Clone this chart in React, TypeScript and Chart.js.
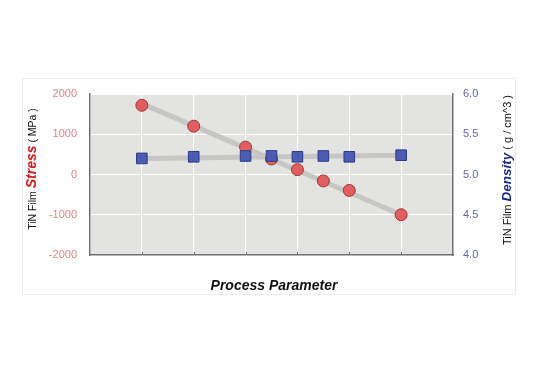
import React, { useEffect, useRef } from "react";
import { Chart, registerables } from "chart.js";

Chart.register(...registerables);

const stressX = [1, 2, 3, 3.5, 4, 4.5, 5, 6];
const stressValues = [1720, 1200, 680, 385, 120, -160, -395, -1000];
const densityX = [1, 2, 3, 3.5, 4, 4.5, 5, 6];
const densityValues = [5.2, 5.22, 5.23, 5.23, 5.22, 5.23, 5.22, 5.24];
const stressTrendX = [1, 6];
const stressTrendValues = [1760, -1000];
const densityTrendX = [1, 6];
const densityTrendValues = [5.2, 5.24];
const stressTicks = [-2000, -1000, 0, 1000, 2000];
const densityTicks = [4.0, 4.5, 5.0, 5.5, 6.0];

const FONT = "'Liberation Sans', Arial, sans-serif";

const pts = (xs: number[], ys: number[]) => xs.map((x, i) => ({ x, y: ys[i] }));

const decorPlugin = {
  id: "decor",
  beforeDraw(chart: any) {
    const { ctx, chartArea } = chart;
    ctx.save();
    ctx.fillStyle = "#ffffff";
    ctx.fillRect(0, 0, chart.width, chart.height);
    ctx.strokeStyle = "#ececec";
    ctx.lineWidth = 1;
    ctx.strokeRect(22.5, 78.5, 493, 216);
    ctx.fillStyle = "#e3e3e1";
    ctx.fillRect(chartArea.left, chartArea.top, chartArea.right - chartArea.left, chartArea.bottom - chartArea.top);
    ctx.restore();
  },
  afterDraw(chart: any) {
    const { ctx, chartArea, scales } = chart;
    ctx.save();
    ctx.strokeStyle = "#707070";
    ctx.lineWidth = 1;
    for (let v = 1; v <= 6; v++) {
      const x = Math.round(scales.x.getPixelForValue(v)) + 0.5;
      ctx.beginPath();
      ctx.moveTo(x, chartArea.bottom);
      ctx.lineTo(x, chartArea.bottom - 3);
      ctx.stroke();
    }
    const drawRot = (cx: number, cy: number, segs: { t: string; f: string; c: string }[]) => {
      ctx.save();
      ctx.translate(cx, cy);
      ctx.rotate(-Math.PI / 2);
      ctx.textBaseline = "alphabetic";
      ctx.textAlign = "left";
      let total = 0;
      for (const s of segs) {
        ctx.font = s.f;
        total += ctx.measureText(s.t).width;
      }
      let x = -total / 2;
      for (const s of segs) {
        ctx.font = s.f;
        ctx.fillStyle = s.c;
        ctx.fillText(s.t, x, 0);
        x += ctx.measureText(s.t).width;
      }
      ctx.restore();
    };
    drawRot(36, 169, [
      { t: "TiN Film ", f: `10.5px ${FONT}`, c: "#111" },
      { t: "Stress", f: `italic bold 14px ${FONT}`, c: "#d81818" },
      { t: " ( MPa )", f: `10.5px ${FONT}`, c: "#111" },
    ]);
    drawRot(511, 170, [
      { t: "TiN Film ", f: `11px ${FONT}`, c: "#111" },
      { t: "Density", f: `italic bold 13.5px ${FONT}`, c: "#1c2a8c" },
      { t: " ( g / cm^3 )", f: `11px ${FONT}`, c: "#111" },
    ]);
    ctx.font = `italic bold 14px ${FONT}`;
    ctx.fillStyle = "#111";
    ctx.textAlign = "center";
    ctx.textBaseline = "middle";
    ctx.fillText("Process Parameter", 274, 286);
    ctx.restore();
  },
};

export default function App() {
  const ref = useRef<HTMLCanvasElement>(null);
  useEffect(() => {
    if (!ref.current) return;
    const chart = new Chart(ref.current, {
      type: "scatter",
      data: {
        datasets: [
          {
            label: "Density",
            data: pts(densityX, densityValues),
            yAxisID: "y2",
            pointStyle: "rect",
            pointRadius: 7.5,
            backgroundColor: "#4a5db2",
            borderColor: "#2c3a86",
            borderWidth: 1,
            showLine: false,
            order: 0,
          },
          {
            label: "Stress",
            data: pts(stressX, stressValues),
            yAxisID: "y",
            pointStyle: "circle",
            pointRadius: 6,
            backgroundColor: "#e25e5e",
            borderColor: "#a03838",
            borderWidth: 1,
            showLine: false,
            order: 1,
          },
          {
            label: "StressTrend",
            data: pts(stressTrendX, stressTrendValues),
            yAxisID: "y",
            showLine: true,
            pointRadius: 0,
            borderColor: "#c6c6c4",
            borderWidth: 5,
            order: 2,
          },
          {
            label: "DensityTrend",
            data: pts(densityTrendX, densityTrendValues),
            yAxisID: "y2",
            showLine: true,
            pointRadius: 0,
            borderColor: "#c6c6c4",
            borderWidth: 5,
            order: 2,
          },
        ],
      },
      options: {
        responsive: false,
        animation: false,
        layout: { padding: { top: 94, bottom: 99, left: 0, right: 0 } },
        plugins: { legend: { display: false }, tooltip: { enabled: false } },
        scales: {
          x: {
            type: "linear",
            min: 0,
            max: 7,
            ticks: { stepSize: 1, display: false },
            grid: { color: "#ffffff", lineWidth: 1, drawTicks: false },
            border: { display: true, color: "#707070", width: 1.5 },
            afterFit: (s: any) => { s.height = 20; },
          },
          y: {
            position: "left",
            min: -2000,
            max: 2000,
            afterBuildTicks: (s: any) => { s.ticks = stressTicks.map((v) => ({ value: v })); },
            ticks: { color: "#e08585", font: { family: FONT, size: 11 }, padding: 13, callback: (v: any) => String(v) },
            grid: { color: "#ffffff", lineWidth: 1, drawTicks: false },
            border: { display: true, color: "#707070", width: 1.5 },
            afterFit: (s: any) => { s.width = 90; },
          },
          y2: {
            position: "right",
            min: 4,
            max: 6,
            afterBuildTicks: (s: any) => { s.ticks = densityTicks.map((v) => ({ value: v })); },
            ticks: { color: "#6464b4", font: { family: FONT, size: 11 }, padding: 10, callback: (v: any) => Number(v).toFixed(1) },
            grid: { display: false, drawTicks: false },
            border: { display: true, color: "#707070", width: 1.5 },
            afterFit: (s: any) => { s.width = 87; },
          },
        },
      },
      plugins: [decorPlugin],
    } as any);
    return () => chart.destroy();
  }, []);
  return (
    <div style={{ position: "absolute", left: 0, top: 0, width: 540, height: 374 }}>
      <canvas ref={ref} width={540} height={374} style={{ width: 540, height: 374 }} />
    </div>
  );
}
